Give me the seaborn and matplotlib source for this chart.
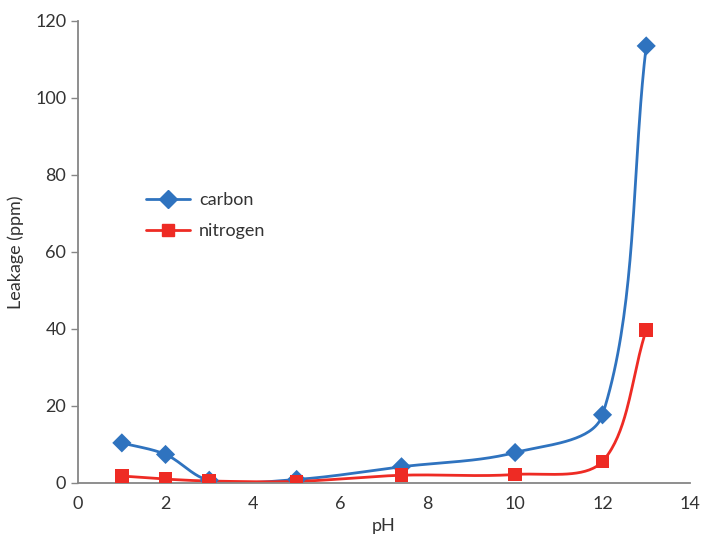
"""Leakage vs pH for carbon and nitrogen, smoothed-line style chart."""

import matplotlib
matplotlib.use("Agg")

import matplotlib.pyplot as plt
import numpy as np
import pandas as pd
import seaborn as sns

ph = [1, 2, 3, 5, 7.4, 10, 12, 13]
carbon = [10.4, 7.4, 0.7, 0.9, 4.2, 7.9, 17.7, 113.5]
nitrogen = [1.8, 1.0, 0.5, 0.4, 2.0, 2.2, 5.6, 39.7]

series_names = ["carbon", "nitrogen"]
colors = {"carbon": "#2f73bf", "nitrogen": "#ee2b24"}
markers = {"carbon": "D", "nitrogen": "s"}

x_ticks = [0, 2, 4, 6, 8, 10, 12, 14]
y_ticks = [0, 20, 40, 60, 80, 100, 120]


def smooth_path(xs, ys, scale=(43.7, 3.85), steps=40):
    """Bezier curve through the points, spreadsheet 'smoothed line' style.

    Tangents are weighted by neighbouring segment lengths (measured on screen),
    which keeps the curve from overshooting next to very steep segments.
    """
    pts = np.column_stack([xs, ys]).astype(float) * np.array(scale)
    padded = np.vstack([pts[0], pts, pts[-1]])
    out = []
    for i in range(1, len(padded) - 2):
        p0, p1, p2, p3 = padded[i - 1], padded[i], padded[i + 1], padded[i + 2]
        d01 = np.hypot(*(p1 - p0))
        d12 = np.hypot(*(p2 - p1))
        d23 = np.hypot(*(p3 - p2))
        f1 = d12 / (d01 + d12) if d01 + d12 > 0 else 0
        f2 = d12 / (d12 + d23) if d12 + d23 > 0 else 0
        c1 = p1 + (p2 - p0) * f1 / 3.0
        c2 = p2 - (p3 - p1) * f2 / 3.0
        t = np.linspace(0, 1, steps)[:, None]
        seg = ((1 - t) ** 3) * p1 + 3 * ((1 - t) ** 2) * t * c1 \
            + 3 * (1 - t) * t ** 2 * c2 + t ** 3 * p2
        out.append(seg if i == 1 else seg[1:])
    curve = np.vstack(out) / np.array(scale)
    return curve[:, 0], curve[:, 1]


df = pd.DataFrame({
    "pH": ph * 2,
    "leakage": carbon + nitrogen,
    "series": ["carbon"] * len(ph) + ["nitrogen"] * len(ph),
})

sns.set_style("white")
plt.rcParams["font.family"] = ["Lato", "DejaVu Sans"]

fig, ax = plt.subplots(figsize=(7.04, 5.36), dpi=100)

for name in series_names:
    sub = df[df["series"] == name]
    sx, sy = smooth_path(sub["pH"].values, sub["leakage"].values)
    ax.plot(sx, sy, color=colors[name], lw=2.0, zorder=2)

sns.scatterplot(data=df, x="pH", y="leakage", hue="series", style="series",
                palette=colors, markers=markers, s=95, edgecolor="none",
                legend=False, ax=ax, zorder=3)

handles = [
    plt.Line2D([], [], color=colors[n], lw=2.0, marker=markers[n],
               markersize=9 if n == "carbon" else 8, label=n)
    for n in series_names
]
ax.legend(handles=handles, loc="upper left", bbox_to_anchor=(0.085, 0.665),
          frameon=False, fontsize=13, handlelength=2.4, labelspacing=0.85,
          handletextpad=0.5, labelcolor="#333333")

ax.set_xlim(0, 14)
ax.set_ylim(0, 120)
ax.set_xticks(x_ticks)
ax.set_yticks(y_ticks)
ax.set_xlabel("pH", fontsize=13, color="#333333", labelpad=4)
ax.set_ylabel("Leakage (ppm)", fontsize=13, color="#333333", labelpad=8)

for side in ["top", "right"]:
    ax.spines[side].set_visible(False)
for side in ["left", "bottom"]:
    ax.spines[side].set_color("#868686")
    ax.spines[side].set_linewidth(1.3)
ax.tick_params(axis="y", left=True, length=5, width=1, color="#868686",
               labelsize=13, labelcolor="#333333")
ax.tick_params(axis="x", bottom=False, labelsize=13, labelcolor="#333333", pad=6)

fig.subplots_adjust(left=0.111, right=0.98, top=0.961, bottom=0.099)
fig.savefig("out.png", dpi=100)
plt.close(fig)
